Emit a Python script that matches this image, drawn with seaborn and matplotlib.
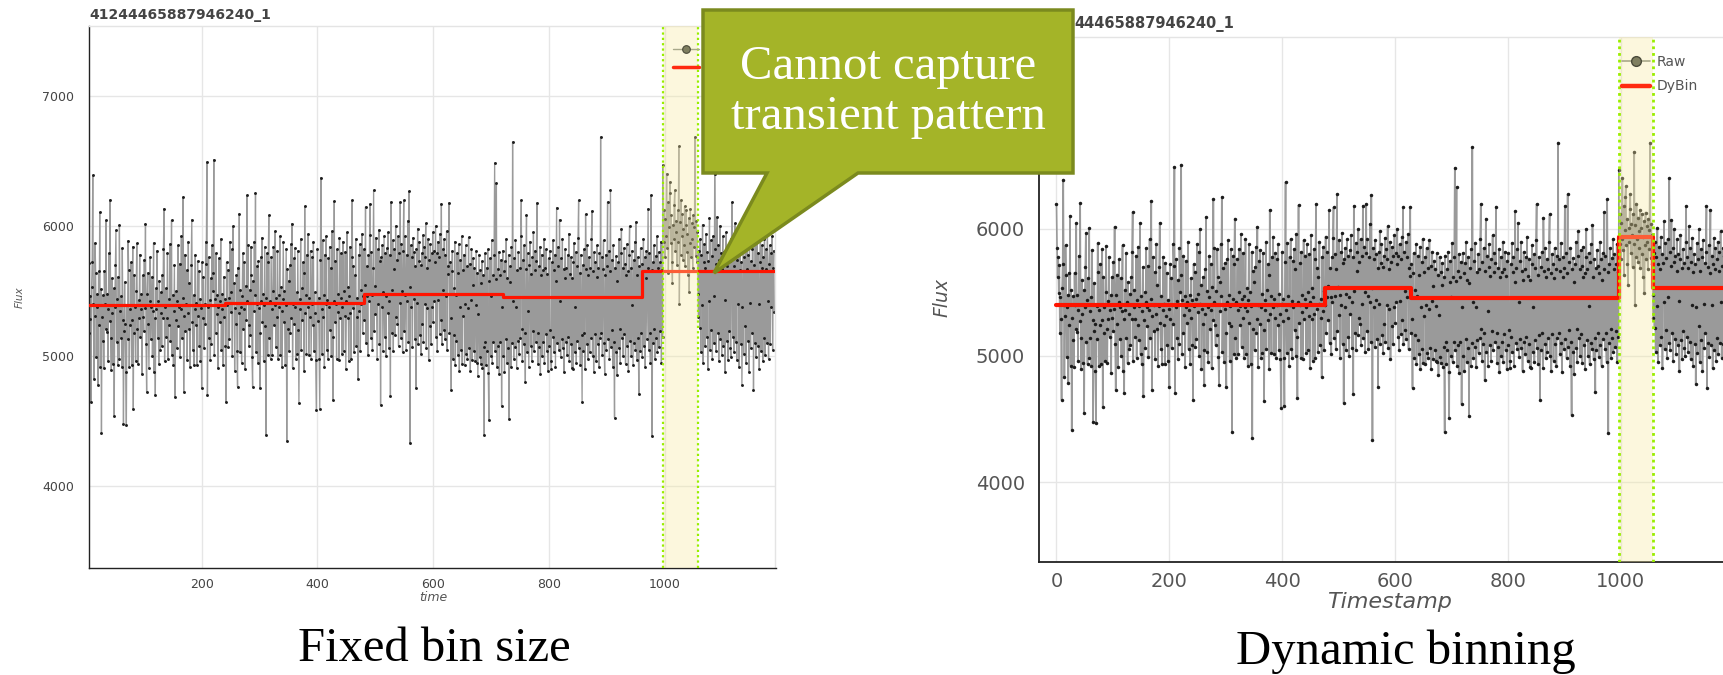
import numpy as np
import pandas as pd
import matplotlib
matplotlib.use("Agg")
import matplotlib.pyplot as plt
import seaborn as sns
from matplotlib.patches import Polygon
from matplotlib.lines import Line2D
from matplotlib.ticker import MultipleLocator, FixedLocator

# ---------------- data ----------------
series_id = "41244465887946240_1"

flux = [
    6197, 5847, 5620, 5781, 5492, 5713, 5176, 5460, 5285, 4649,
    5530, 5724, 6390, 5402, 4828, 5310, 5870, 5637, 4990, 5380,
    5480, 4781, 5650, 5240, 6105, 4920, 5515, 4411, 5300, 5120,
    5470, 4912, 5655, 5400, 5210, 6044, 5189, 5480, 4960, 5360,
    5790, 5270, 6202, 5140, 4893, 5600, 5330, 4940, 5520, 4544,
    5380, 5700, 5966, 5110, 5440, 4930, 5610, 4980, 6005, 5350,
    5140, 5460, 4920, 5830, 5280, 4478, 5190, 5570, 5250, 4880,
    4470, 5390, 5130, 5887, 5660, 4920, 5360, 5240, 5720, 4930,
    5280, 5840, 4591, 5624, 5180, 5380, 4960, 5500, 5865, 5210,
    4940, 5430, 5290, 5780, 5150, 5360, 5480, 4860, 5620, 5300,
    5190, 5740, 5370, 6018, 5090, 4728, 5480, 5640, 5250, 4910,
    5420, 5760, 5130, 5380, 5610, 5000, 5350, 5870, 4880, 5290,
    4701, 5520, 5360, 5810, 5140, 5420, 4940, 5580, 5050, 5330,
    5490, 5080, 5620, 5290, 5820, 6133, 4960, 5380, 5520, 5150,
    5290, 5790, 4980, 5440, 5240, 5860, 5120, 5390, 6044, 5010,
    5470, 4930, 5350, 5700, 4683, 5280, 5500, 5060, 5420, 5850,
    5230, 5380, 5710, 4990, 5360, 5920, 5140, 5450, 6223, 4726,
    5310, 5780, 5190, 5400, 5660, 4970, 5330, 5880, 5210, 5560,
    4920, 5390, 5700, 6049, 5260, 5050, 5470, 4930, 5360, 5780,
    5240, 5410, 4930, 5730, 5310, 5650, 5080, 5440, 4960, 5370,
    4752, 5720, 5290, 5610, 5060, 5400, 5250, 5880, 5710, 6491,
    4701, 5380, 5760, 5140, 5430, 4970, 5600, 5090, 5850, 5500,
    5640, 6509, 5010, 5440, 5180, 5790, 5320, 5470, 4910, 5380,
    5750, 5260, 5420, 5900, 5050, 5360, 5480, 4930, 5610, 5300,
    5440, 5080, 4650, 5720, 5390, 5660, 5070, 5450, 5130, 5880,
    5340, 5490, 5820, 5000, 5998, 5410, 5560, 4890, 5370, 5250,
    5620, 5040, 4765, 5680, 5330, 6095, 5030, 5510, 5380, 4950,
    5460, 5790, 5210, 5720, 5360, 4900, 5540, 5280, 6235, 5420,
    5850, 5240, 5080, 5510, 5160, 5840, 5620, 4990, 4765, 5580,
    5350, 5880, 5470, 6253, 5030, 5400, 5690, 4950, 5730, 5370,
    5180, 4752, 5760, 5420, 5910, 5260, 5480, 4960, 5390, 5840,
    5230, 4394, 5450, 5790, 5010, 5720, 6082, 5140, 5420, 4980,
    5760, 5360, 5010, 5500, 5840, 5240, 5390, 5960, 5070, 5450,
    5300, 5810, 4980, 5470, 5380, 5920, 5010, 5530, 5350, 4920,
    5440, 5880, 5260, 5500, 4930, 5390, 5820, 4350, 5670, 5210,
    5580, 5040, 5700, 5180, 5860, 5290, 6018, 4910, 5400, 5750,
    5250, 5830, 5380, 4980, 5490, 5020, 5810, 5200, 4637, 5440,
    5360, 5900, 5050, 5520, 5280, 5720, 5640, 4890, 6151, 5330,
    5470, 5020, 5780, 5380, 5940, 5010, 5450, 5300, 5810, 4980,
    5400, 5760, 5240, 5880, 5040, 5490, 5330, 4970, 4586, 5410,
    5820, 5270, 5450, 4980, 4598, 5740, 6371, 5360, 5020, 5890,
    5300, 5470, 4920, 5780, 5400, 5920, 5050, 5430, 4980, 5750,
    5380, 5840, 5200, 5680, 5000, 5960, 5150, 4662, 5420, 6189,
    5260, 5730, 5400, 4980, 5820, 5340, 5480, 4970, 5910, 5290,
    5450, 5790, 5020, 5380, 5880, 5040, 5500, 5310, 5800, 4900,
    5420, 5950, 5290, 5530, 4960, 5460, 5840, 5330, 4980, 5760,
    6197, 5370, 5690, 5030, 5620, 5410, 5900, 5080, 5450, 5300,
    4828, 5780, 5350, 5860, 5040, 5510, 5400, 5940, 5180, 5460,
    5820, 5280, 5550, 6146, 5100, 5690, 5460, 5010, 5780, 5420,
    5930, 6171, 5140, 5800, 5470, 5050, 5680, 6274, 5190, 5540,
    5320, 5910, 5480, 4980, 5820, 5400, 5970, 5090, 5730, 4624,
    5760, 5380, 5850, 5040, 5490, 5920, 5150, 5790, 5000, 5460,
    5830, 5330, 5950, 5420, 5060, 5780, 4693, 6184, 5510, 5180,
    5890, 5040, 5670, 5820, 5160, 6000, 5300, 5740, 5250, 5920,
    5080, 5790, 5410, 6184, 5140, 5860, 5500, 5030, 5810, 6197,
    5190, 5920, 5470, 5050, 5780, 5420, 6040, 5110, 6266, 5530,
    4335, 5850, 5380, 5760, 5070, 5910, 5440, 5800, 5130, 5690,
    4752, 5820, 5410, 5980, 5090, 5730, 5880, 5160, 5700, 5020,
    5790, 5250, 5930, 5110, 5840, 5400, 5760, 6020, 5060, 5680,
    5370, 5900, 4969, 5740, 5230, 5860, 5090, 5790, 5380, 5950,
    5260, 5810, 5420, 5720, 6000, 5150, 5790, 5040, 5880, 5430,
    5760, 5170, 5940, 5280, 6171, 5090, 5820, 5510, 5200, 5900,
    5130, 5780, 5460, 5960, 5050, 5690, 5630, 6177, 5180, 5720,
    5290, 4744, 5650, 5810, 4980, 5520, 5160, 5880, 4930, 5470,
    5120, 5790, 5010, 5640, 5860, 4890, 5380, 5740, 5050, 5920,
    4940, 5660, 5310, 5780, 4930, 5400, 5850, 5020, 5690, 4980,
    5370, 5911, 5060, 5710, 4890, 5430, 5820, 4970, 5550, 5750,
    5040, 5680, 4960, 5390, 5810, 4950, 5640, 4846, 5320, 5780,
    4990, 5660, 4940, 5560, 5730, 4910, 5620, 5070, 4394, 5790,
    5110, 4930, 5680, 5040, 5820, 4870, 4509, 5580, 5750, 5000,
    5460, 5890, 4950, 5620, 5110, 5780, 6484, 5040, 5590, 6330,
    4920, 5670, 5080, 5800, 4860, 5620, 5110, 5740, 4616, 5380,
    5810, 5000, 5650, 4880, 5730, 5130, 5900, 4950, 5600, 5060,
    5780, 4521, 5570, 5690, 4920, 5840, 5100, 6645, 5420, 4980,
    5750, 5070, 5890, 5380, 4910, 5660, 5120, 5800, 5020, 5680,
    5140, 5920, 6197, 5210, 4960, 5740, 5090, 5850, 5180, 4803,
    5670, 6082, 5030, 5790, 5350, 4920, 5700, 5880, 5080, 5630,
    4960, 5760, 5190, 5950, 5040, 5660, 5810, 5110, 5730, 6177,
    5180, 4940, 5690, 5070, 5840, 4867, 5620, 5780, 5000, 5660,
    5110, 5900, 4950, 5680, 5170, 5820, 5040, 5630, 4890, 5750,
    5080, 5810, 5200, 4960, 4905, 5720, 5150, 5890, 5030, 5660,
    5780, 4920, 5580, 6141, 5100, 5690, 5840, 5050, 6049, 5420,
    4990, 5750, 5130, 5900, 5060, 5670, 4880, 5600, 5820, 5110,
    5680, 5010, 5780, 5150, 5940, 4960, 5630, 5090, 5760, 4910,
    5600, 4905, 5720, 5870, 5030, 5380, 5800, 4950, 5690, 5120,
    5910, 6197, 5060, 5640, 4930, 5780, 5160, 4650, 5700, 5040,
    5820, 5180, 4900, 6090, 5670, 5090, 5850, 4980, 5620, 5760,
    5030, 5680, 5140, 5900, 6115, 5000, 5650, 4880, 5800, 5170,
    5720, 4960, 5610, 5850, 5090, 5680, 4920, 5790, 5140, 6683,
    5180, 5760, 5010, 5670, 5890, 5100, 4867, 5620, 5780, 5050,
    5690, 6184, 5130, 5810, 4980, 5650, 6274, 5070, 5740, 5200,
    4920, 5850, 5110, 4529, 5680, 5030, 5770, 4854, 5580, 5720,
    5060, 5900, 5210, 4950, 5790, 5980, 5140, 5680, 5000, 5830,
    5170, 5710, 4940, 5620, 5860, 5080, 5650, 4890, 5780, 5998,
    5120, 5680, 5000, 5810, 5390, 4930, 5740, 5100, 5880, 5050,
    6031, 5620, 4970, 5760, 5140, 4708, 5690, 5040, 5830, 5180,
    5710, 4990, 5650, 5900, 5080, 5760, 4920, 5600, 5810, 5130,
    5680, 6133, 5050, 5790, 5180, 4950, 6235, 5660, 4386, 5720,
    5100, 5850, 5210, 4980, 5770, 5140, 5920, 5030, 5680, 5800,
    5070, 5720, 5190, 5880, 4950, 5660, 5150, 6466, 5880, 6120,
    5760, 6050, 5920, 6402, 5830, 6180, 5640, 5990, 6250, 6338,
    5870, 6080, 5720, 5558, 6010, 5900, 6160, 6274, 5810, 6040,
    5950, 5700, 6120, 5880, 6611, 5399, 6030, 5780, 6200, 5920,
    6090, 5740, 5980, 5850, 6150, 5690, 6010, 6120, 5800, 5940,
    5620, 6060, 5494, 5870, 6130, 5760, 6020, 5900, 5680, 6080,
    5840, 5990, 6683, 5770, 6040, 5720, 5950, 5480, 5300, 5810,
    5220, 5900, 5030, 5780, 5390, 6010, 4950, 5720, 5860, 5080,
    5680, 5940, 5150, 5800, 4900, 5730, 5420, 6060, 5050, 5890,
    5200, 5770, 4980, 5920, 5460, 5100, 6400, 5820, 5040, 5710,
    6069, 5180, 5850, 4960, 5740, 6000, 5130, 5790, 5010, 5670,
    5920, 5080, 5800, 5430, 4880, 5760, 5950, 5120, 5690, 4970,
    5840, 5190, 5730, 5060, 4995, 5900, 6181, 5150, 5780, 5030,
    5690, 6020, 5110, 5850, 4970, 5740, 5400, 5930, 4920, 5660,
    5800, 5090, 5720, 4777, 5380, 5890, 5020, 5760, 5230, 6000,
    4950, 5670, 5840, 5120, 5780, 4880, 5910, 5410, 5060, 5730,
    5180, 5820, 6181, 4740, 5700, 5100, 5870, 4990, 5650, 6150,
    5080, 5790, 5400, 4898, 5720, 5930, 5040, 5680, 5850, 4960,
    5760, 5140, 5900, 5010, 5670, 5820, 5100, 5980, 5420, 4980,
    5710, 5850, 5090, 5790, 5380, 5920, 5050, 5680, 5810, 5340,
]
timestamps = list(range(len(flux)))

fixed_bin_edges = [0, 240, 480, 720, 960, 1190]
fixed_bin_means = [5393, 5405, 5476, 5452, 5652]
dy_bin_edges = [0, 476, 628, 997, 1057, 1190]
dy_bin_means = [5401, 5537, 5452, 5937, 5530]
transient_window = [997, 1057]

left_xticks = [200, 400, 600, 800, 1000]
right_xticks = [0, 200, 400, 600, 800, 1000]
left_yticks = [4000, 5000, 6000, 7000]
right_yticks = [4000, 5000, 6000]

panel_titles = ["Fixed bin size", "Dynamic binning"]
callout_text = "Cannot capture\ntransient pattern"

# ---------------- style ----------------
sns.set_style("white")
plt.rcParams["font.family"] = ["DejaVu Sans"]

W, H = 1724, 675
fig = plt.figure(figsize=(W / 100, H / 100), dpi=100)


def fx(x):
    return x / W


def fy(y):
    return 1 - y / H


raw_df = pd.DataFrame({"t": timestamps, "flux": flux})

RAW_C = "#9a9a9a"
DOT_C = "#1c1c1c"
RED_C = "#ff1400"
BAND_C = "#f7e9a0"
EDGE_C = "#99ee00"


def draw_panel(ax, edges, means, raw_lw, ms, red_lw, edge_lw, axis_lw,
               xticks, yticks):
    sns.lineplot(data=raw_df, x="t", y="flux", ax=ax, color=RAW_C, lw=raw_lw,
                 marker="o", ms=ms, mfc=DOT_C, mec=DOT_C, mew=0,
                 estimator=None, sort=False, zorder=2)
    step_df = pd.DataFrame({"t": edges, "v": means + [means[-1]]})
    sns.lineplot(data=step_df, x="t", y="v", ax=ax, color=RED_C, lw=red_lw,
                 drawstyle="steps-post", estimator=None, sort=False, zorder=3)
    ax.axvspan(transient_window[0], transient_window[1], fc=BAND_C,
               alpha=0.35, lw=0, zorder=4)
    for xv in transient_window:
        ax.axvline(xv, color=EDGE_C, ls=(0, (1, 1.4)), lw=edge_lw, zorder=5)
    ax.xaxis.set_major_locator(FixedLocator(xticks))
    ax.xaxis.set_minor_locator(MultipleLocator(40))
    ax.yaxis.set_major_locator(FixedLocator(yticks))
    ax.yaxis.set_minor_locator(MultipleLocator(200))
    ax.grid(True, which="major", color="#e6e6e6", lw=1)
    ax.set_axisbelow(True)
    for s in ["left", "bottom"]:
        ax.spines[s].set_color("#222222")
        ax.spines[s].set_linewidth(axis_lw)
    for s in ["top", "right"]:
        ax.spines[s].set_color("#e4e4e4")
        ax.spines[s].set_linewidth(1)


# ---- left panel (fixed bins) ----
axL = fig.add_axes([fx(89.3), fy(568), (775.5 - 89.3) / W, (568 - 25.8) / H])
draw_panel(axL, fixed_bin_edges, fixed_bin_means, 0.95, 2.1, 2.3, 1.6, 1.0,
           left_xticks, left_yticks)
axL.set_xlim(6, 1191)
axL.set_ylim(3374, 7536)
axL.tick_params(which="major", direction="out", length=3, width=0.9,
                color="#222222", labelsize=9, labelcolor="#444444")
axL.tick_params(which="minor", direction="out", length=2, width=0.8,
                color="#222222")
axL.tick_params(axis="x", which="major", pad=4)
axL.tick_params(axis="y", which="major", pad=8)
axL.set_xlabel("time", fontstyle="italic", fontsize=9, color="#555555", va="center")
axL.xaxis.set_label_coords(0.502, -0.0553)
axL.set_ylabel("Flux", fontstyle="italic", fontsize=7.5, color="#555555",
               va="center", ha="center")
axL.yaxis.set_label_coords(-0.101, 0.50)

# legend of the left panel: its labels are hidden under the callout
legL = [Line2D([], [], color="#a8a88a", lw=1, marker="o", ms=5.5,
               mfc="#7f7f60", mec="#4a4a3a", mew=0.8),
        Line2D([], [], color="#ff2a10", lw=2.5)]
axL.legend(legL, ["", ""], loc="upper left",
           bbox_to_anchor=(fx(673), fy(45)), bbox_transform=fig.transFigure,
           frameon=False, fontsize=8, handlelength=2.3, handletextpad=0.5,
           borderpad=0, borderaxespad=0, labelspacing=0.7)

# ---- right panel (dynamic bins) ----
axR = fig.add_axes([fx(1039), fy(561.8), (1252 * 0.5642) / W, (561.8 - 36.6) / H])
draw_panel(axR, dy_bin_edges, dy_bin_means, 1.2, 2.5, 3.0, 2.0, 1.3,
           right_xticks, right_yticks)
axR.set_xlim(-31, 1221)
axR.set_ylim(3370, 7520)
axR.tick_params(which="major", direction="out", length=4.5, width=1.1,
                color="#222222", labelsize=14, labelcolor="#555555")
axR.tick_params(which="minor", direction="out", length=2.6, width=1.0,
                color="#222222")
axR.tick_params(axis="x", which="major", pad=2.5)
axR.tick_params(axis="y", which="major", pad=5.5)
axR.set_xlabel("Timestamp", fontstyle="italic", fontsize=16, color="#555555", va="center")
axR.xaxis.set_label_coords(0.4955, -0.0765)
axR.set_ylabel("Flux", fontstyle="italic", fontsize=13.5, color="#555555",
               va="center", ha="center")
axR.yaxis.set_label_coords(-0.138, 0.504)

legR = [Line2D([], [], color="#a8a88a", lw=1.2, marker="o", ms=7,
               mfc="#7f7f60", mec="#4a4a3a", mew=1.0),
        Line2D([], [], color="#ff2a10", lw=3.2)]
axR.legend(legR, ["Raw", "DyBin"], loc="upper left",
           bbox_to_anchor=(fx(1622), fy(55)), bbox_transform=fig.transFigure,
           frameon=False, fontsize=10, handlelength=2.0, handletextpad=0.5,
           borderpad=0, borderaxespad=0, labelspacing=0.75, labelcolor="#555555")

# ---- panel headers ----
fig.text(fx(89), fy(15), series_id, ha="left", va="center", fontsize=10,
         fontweight="bold", color="#444444")
fig.text(fx(1074), fy(24.5), series_id[3:], ha="left", va="center", fontsize=10.5,
         fontweight="bold", color="#444444")

# ---- captions ----
fig.text(fx(434), fy(649), panel_titles[0], ha="center", va="center",
         fontsize=35, family="Liberation Serif", color="black")
fig.text(fx(1406), fy(652), panel_titles[1], ha="center", va="center",
         fontsize=35, family="Liberation Serif", color="black")

# ---- callout ----
pts = [(703, 10), (1073, 10), (1073, 173), (858, 173), (714, 273), (767, 173), (703, 173)]
poly = Polygon([(fx(x), fy(y)) for x, y in pts], closed=True, fc="#a4b428",
               ec="#7b8a1e", lw=2.5, transform=fig.transFigure, zorder=10)
fig.add_artist(poly)
fig.text(fx(888), fy(92), callout_text, ha="center", va="center", color="white",
         fontsize=35, family="Liberation Serif", linespacing=1.18, zorder=11)

fig.savefig("out.png", dpi=100, facecolor="white")
